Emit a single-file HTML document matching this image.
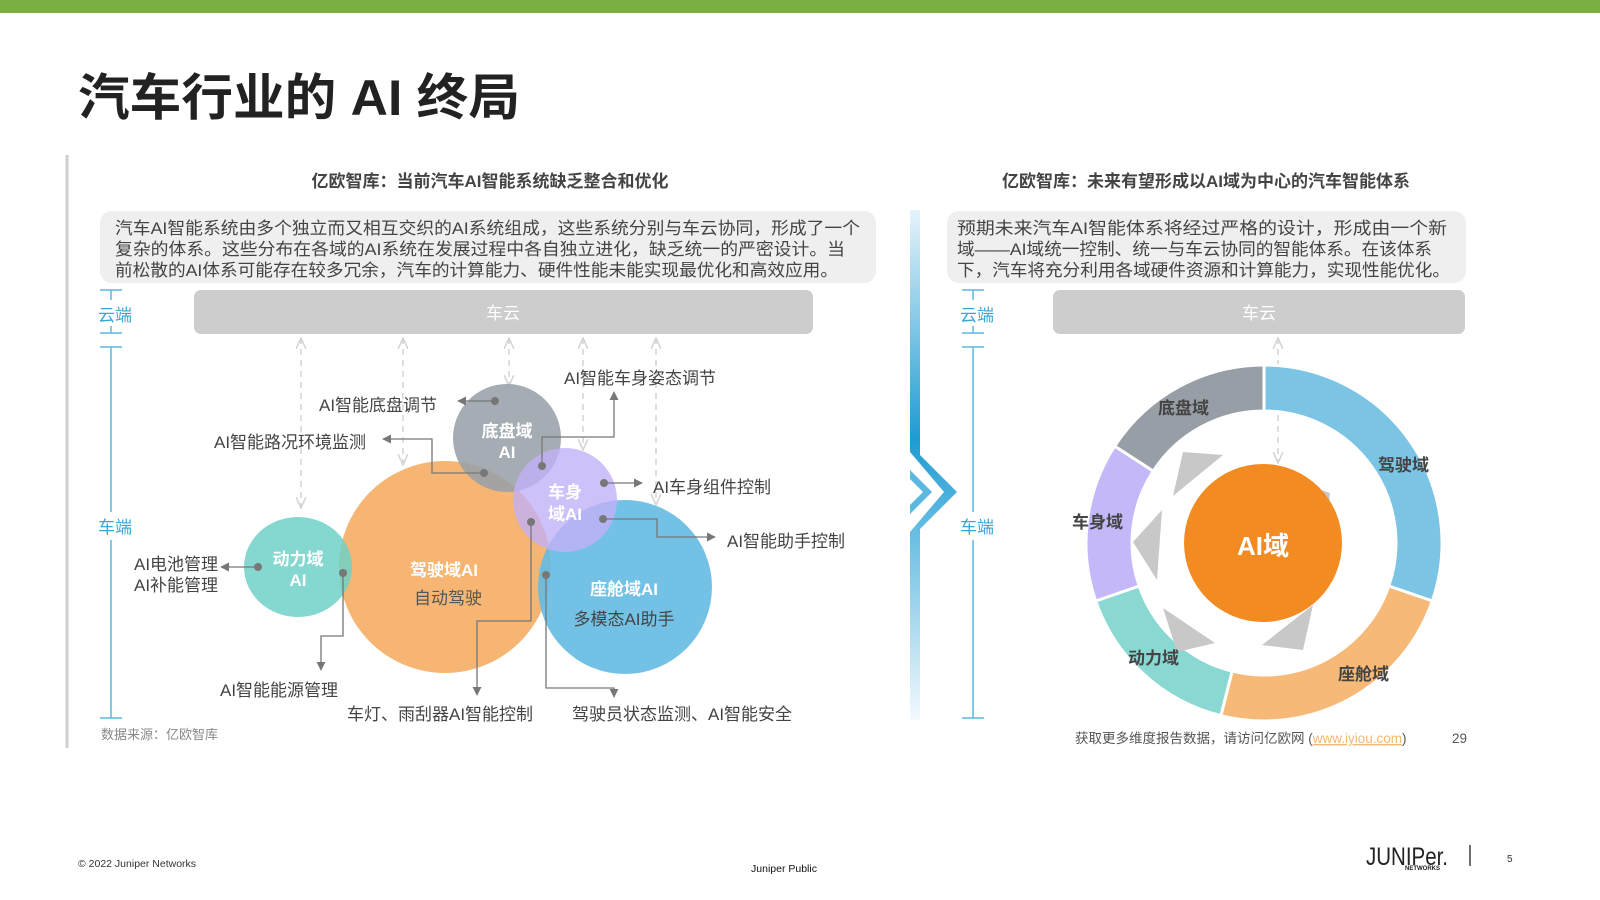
<!DOCTYPE html>
<html><head><meta charset="utf-8">
<style>
html,body{margin:0;padding:0;background:#fff;}
svg{display:block;}
text{font-family:"Liberation Sans","Noto Sans CJK SC",sans-serif;}
</style></head>
<body>
<svg width="1600" height="900" viewBox="0 0 1600 900" xmlns="http://www.w3.org/2000/svg">
<defs>
<linearGradient id="bl" x1="0" y1="0" x2="0" y2="1">
<stop offset="0" stop-color="#e6f4fb"/><stop offset="0.45" stop-color="#1e9bd2"/><stop offset="0.6" stop-color="#5bb8e0"/><stop offset="1" stop-color="#f2f9fd"/>
</linearGradient>
<marker id="ah" viewBox="0 0 10 10" refX="9" refY="5" markerWidth="7" markerHeight="7" orient="auto-start-reverse"><path d="M0,0 L10,5 L0,10 z" fill="#777"/></marker>
<marker id="da" viewBox="0 0 10 10" refX="9" refY="5" markerWidth="8" markerHeight="8" orient="auto-start-reverse"><path d="M0,1 L9,5 L0,9" fill="none" stroke="#d4d4d4" stroke-width="1.3"/></marker>
</defs>
<rect x="0" y="0" width="1600" height="13" fill="#79b041"/>
<text x="78" y="115" font-size="50" font-weight="bold" fill="#222" textLength="442" lengthAdjust="spacingAndGlyphs">汽车行业的 AI 终局</text>
<line x1="67" y1="155" x2="67" y2="748" stroke="#cfcfcf" stroke-width="3"/>

<text x="490" y="187" font-size="17" font-weight="bold" fill="#444" text-anchor="middle">亿欧智库：当前汽车AI智能系统缺乏整合和优化</text>
<text x="1206" y="187" font-size="17" font-weight="bold" fill="#444" text-anchor="middle">亿欧智库：未来有望形成以AI域为中心的汽车智能体系</text>

<rect x="100" y="211" width="776" height="72" rx="12" fill="#efefef"/>
<g font-size="17" fill="#444">
<text x="115" y="234" textLength="745" lengthAdjust="spacingAndGlyphs">汽车AI智能系统由多个独立而又相互交织的AI系统组成，这些系统分别与车云协同，形成了一个</text>
<text x="115" y="255" textLength="730" lengthAdjust="spacingAndGlyphs">复杂的体系。这些分布在各域的AI系统在发展过程中各自独立进化，缺乏统一的严密设计。当</text>
<text x="115" y="276" textLength="723" lengthAdjust="spacingAndGlyphs">前松散的AI体系可能存在较多冗余，汽车的计算能力、硬件性能未能实现最优化和高效应用。</text>
</g>
<rect x="947" y="211" width="519" height="72" rx="12" fill="#efefef"/>
<g font-size="17" fill="#444">
<text x="957" y="234" textLength="490" lengthAdjust="spacingAndGlyphs">预期未来汽车AI智能体系将经过严格的设计，形成由一个新</text>
<text x="957" y="255" textLength="475" lengthAdjust="spacingAndGlyphs">域——AI域统一控制、统一与车云协同的智能体系。在该体系</text>
<text x="957" y="276" textLength="493" lengthAdjust="spacingAndGlyphs">下，汽车将充分利用各域硬件资源和计算能力，实现性能优化。</text>
</g>

<path d="M910,210 L920,210 L920,455 L957,492 L920,529 L920,720 L910,720 L910,532 L944,492 L910,452 Z" fill="url(#bl)"/>
<path d="M910,470 L932,492 L910,514 L910,505 L923,492 L910,479 Z" fill="#5bb8e0"/>

<g stroke="#5bb8dc" stroke-width="1.5" fill="none">
<line x1="100" y1="290" x2="122" y2="290"/><line x1="111" y1="290" x2="111" y2="300"/>
<line x1="111" y1="326" x2="111" y2="333"/><line x1="100" y1="333" x2="122" y2="333"/>
<line x1="100" y1="347" x2="122" y2="347"/><line x1="111" y1="347" x2="111" y2="512"/>
<line x1="111" y1="540" x2="111" y2="718"/><line x1="100" y1="718" x2="122" y2="718"/>
<line x1="962" y1="290" x2="984" y2="290"/><line x1="973" y1="290" x2="973" y2="300"/>
<line x1="973" y1="326" x2="973" y2="333"/><line x1="962" y1="333" x2="984" y2="333"/>
<line x1="962" y1="347" x2="984" y2="347"/><line x1="973" y1="347" x2="973" y2="512"/>
<line x1="973" y1="540" x2="973" y2="718"/><line x1="962" y1="718" x2="984" y2="718"/>
</g>
<g font-size="17" fill="#3aa6d6">
<text x="98" y="321">云端</text><text x="98" y="533">车端</text>
<text x="960" y="321">云端</text><text x="960" y="533">车端</text>
</g>

<rect x="194" y="290" width="619" height="44" rx="7" fill="#cdcdcd"/>
<text x="503" y="319" font-size="17" fill="#fff" text-anchor="middle">车云</text>
<rect x="1053" y="290" width="412" height="44" rx="7" fill="#cdcdcd"/>
<text x="1259" y="319" font-size="17" fill="#fff" text-anchor="middle">车云</text>

<g stroke="#d4d4d4" stroke-width="1.5" stroke-dasharray="6,5" fill="none" marker-start="url(#da)" marker-end="url(#da)">
<line x1="301" y1="338" x2="301" y2="508"/>
<line x1="403" y1="338" x2="403" y2="465"/>
<line x1="509" y1="338" x2="509" y2="386"/>
<line x1="583" y1="338" x2="583" y2="450"/>
<line x1="656" y1="338" x2="656" y2="505"/>
<line x1="1278" y1="338" x2="1278" y2="463"/>
</g>

<circle cx="445" cy="567" r="106" fill="#f5b16c" opacity="0.95"/>
<ellipse cx="298" cy="567" rx="54" ry="50" fill="#6ed1c7" opacity="0.85"/>
<circle cx="625" cy="587" r="87" fill="#64bbe3" opacity="0.9"/>
<circle cx="507" cy="438" r="54" fill="#9aa1a9" opacity="0.88"/>
<circle cx="565" cy="500" r="52" fill="#c2b0f7" opacity="0.8"/>
<g fill="#fff" font-size="17" font-weight="bold" text-anchor="middle">
<text x="507" y="437">底盘域</text><text x="507" y="458">AI</text>
<text x="565" y="498">车身</text><text x="565" y="520">域AI</text>
<text x="298" y="565">动力域</text><text x="298" y="586">AI</text>
<text x="444" y="576">驾驶域AI</text>
<text x="624" y="595">座舱域AI</text>
</g>
<text x="448" y="604" font-size="17" fill="#555" text-anchor="middle">自动驾驶</text>
<text x="624" y="625" font-size="17" fill="#444" text-anchor="middle">多模态AI助手</text>

<g stroke="#777" stroke-width="1.3" fill="none" marker-end="url(#ah)">
<polyline points="495,401 458,401"/>
<polyline points="542,466 542,437 614,437 614,392"/>
<polyline points="484,473 432,473 432,439 383,439"/>
<polyline points="604,483 642,483"/>
<polyline points="603,519 657,519 657,537 715,537"/>
<polyline points="258,567 221,567"/>
<polyline points="343,573 343,636 321,636 321,670"/>
<polyline points="531,522 531,621 477,621 477,695"/>
<polyline points="546,575 546,688 614,688 614,697"/>
</g>
<g fill="#777">
<circle cx="495" cy="401" r="4"/><circle cx="542" cy="466" r="4"/><circle cx="484" cy="473" r="4"/>
<circle cx="604" cy="483" r="4"/><circle cx="603" cy="519" r="4"/><circle cx="258" cy="567" r="4"/>
<circle cx="343" cy="573" r="4"/><circle cx="531" cy="522" r="4"/><circle cx="546" cy="575" r="4"/>
</g>
<g font-size="17" fill="#444">
<text x="319" y="411">AI智能底盘调节</text>
<text x="564" y="384">AI智能车身姿态调节</text>
<text x="214" y="448">AI智能路况环境监测</text>
<text x="653" y="493">AI车身组件控制</text>
<text x="727" y="547">AI智能助手控制</text>
<text x="134" y="570">AI电池管理</text>
<text x="134" y="591">AI补能管理</text>
<text x="220" y="696">AI智能能源管理</text>
<text x="347" y="720">车灯、雨刮器AI智能控制</text>
<text x="572" y="720">驾驶员状态监测、AI智能安全</text>
</g>
<text x="101" y="739" font-size="13" fill="#888">数据来源：亿欧智库</text>

<g stroke="#fff" stroke-width="3">
<path d="M1264,365 A178,178 0 0 1 1432.3,601 L1388.8,586 A132,132 0 0 0 1264,411 Z" fill="#7cc4e4"/>
<path d="M1432.3,601 A178,178 0 0 1 1220.9,715.7 L1232.1,671.1 A132,132 0 0 0 1388.8,586 Z" fill="#f6b978"/>
<path d="M1220.9,715.7 A178,178 0 0 1 1095.7,601 L1139.2,586 A132,132 0 0 0 1232.1,671.1 Z" fill="#8ad8d2"/>
<path d="M1095.7,601 A178,178 0 0 1 1114.7,446.1 L1153.3,471.1 A132,132 0 0 0 1139.2,586 Z" fill="#c4b8f8"/>
<path d="M1114.7,446.1 A178,178 0 0 1 1264,365 L1264,411 A132,132 0 0 0 1153.3,471.1 Z" fill="#979ea5"/>
</g>
<g fill="#c8c8c8">
<polygon points="1183,452 1223,455 1173,496"/>
<polygon points="1292,480 1330,493 1325,538"/>
<polygon points="1162,510 1133,542 1157,580"/>
<polygon points="1163,608 1215,643 1177,652"/>
<polygon points="1313,605 1303,650 1262,645"/>
</g>
<circle cx="1263" cy="543" r="79" fill="#f28c22"/>
<text x="1263" y="555" font-size="26" font-weight="bold" fill="#fff" text-anchor="middle">AI域</text>
<g font-size="17" font-weight="bold" fill="#444">
<text x="1158" y="414">底盘域</text>
<text x="1378" y="471">驾驶域</text>
<text x="1072" y="528">车身域</text>
<text x="1128" y="664">动力域</text>
<text x="1338" y="680">座舱域</text>
</g>
<text x="1075" y="743" font-size="13.5" fill="#555">获取更多维度报告数据，请访问亿欧网 (<tspan fill="#f5b86e" text-decoration="underline">www.iyiou.com</tspan>)</text>
<text x="1452" y="743" font-size="13.5" fill="#555">29</text>

<text x="78" y="867" font-size="10.5" fill="#333">© 2022 Juniper Networks</text>
<text x="784" y="872" font-size="10.5" fill="#111" text-anchor="middle">Juniper Public</text>
<text x="1366" y="865" font-size="25" fill="#222" textLength="82" lengthAdjust="spacingAndGlyphs">JUNIPer.</text>
<text x="1405" y="870" font-size="6" fill="#222" font-weight="bold">NETWORKS</text>
<line x1="1470" y1="845" x2="1470" y2="866" stroke="#222" stroke-width="1.3"/>
<text x="1507" y="862" font-size="10" fill="#333">5</text>
</svg>
</body></html>
